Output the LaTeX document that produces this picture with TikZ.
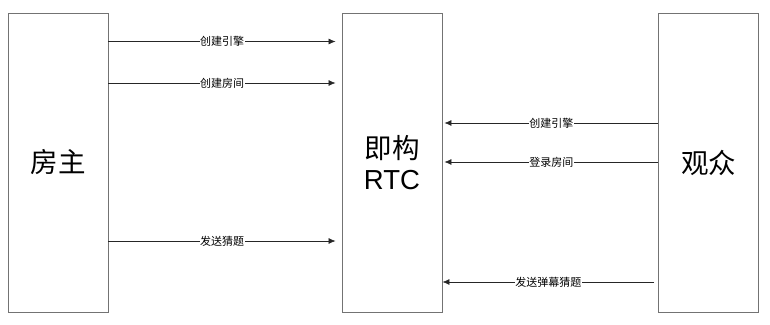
\documentclass[tikz,border=0pt]{standalone}
\usepackage{fontspec}
\setmainfont{Liberation Sans}
\newfontfamily\cjk{Noto Sans CJK SC}
\usetikzlibrary{arrows.meta}
\begin{document}
\begin{tikzpicture}[x=1pt,y=-1pt,
  party/.style={draw=black!55,line width=0.9pt,minimum width=100pt,minimum height=299pt,inner sep=0pt,align=center,font=\fontsize{27.5}{33}\selectfont},
  msg/.style={draw=black!85,line width=0.7pt,-{Latex[length=7pt,width=6pt]}},
  tag/.style={fill=white,inner sep=0.5pt,font=\cjk\fontsize{11}{12}\selectfont}]
\useasboundingbox (0,0) rectangle (770,324);
% the three parties
\node[party] (host) at (58,162.5) {\cjk 房主};
\node[party] (rtc) at (392,162.5) {\cjk 即构\\[-2pt]RTC};
\node[party] (aud) at (708.5,162.5) {\cjk 观众};
% anchor points for the messages
\coordinate (h1) at (host.east |- 0,41.5);
\coordinate (h2) at (host.east |- 0,83);
\coordinate (h3) at (host.east |- 0,241);
\coordinate (r1) at ([xshift=-6pt]rtc.west |- 0,41.5);
\coordinate (r2) at ([xshift=-6pt]rtc.west |- 0,83);
\coordinate (r3) at ([xshift=-6pt]rtc.west |- 0,241);
\coordinate (a1) at (aud.west |- 0,123);
\coordinate (a2) at (aud.west |- 0,162);
\coordinate (a3) at ([xshift=-4pt]aud.west |- 0,282);
\coordinate (q1) at ([xshift=2pt]rtc.east |- 0,123);
\coordinate (q2) at ([xshift=2pt]rtc.east |- 0,162);
\coordinate (q3) at (rtc.east |- 0,282);
% host -> RTC
\draw[msg] (h1) -- node[tag] {创建引擎} (r1);
\draw[msg] (h2) -- node[tag] {创建房间} (r2);
\draw[msg] (h3) -- node[tag] {发送猜题} (r3);
% audience -> RTC
\draw[msg] (a1) -- node[tag] {创建引擎} (q1);
\draw[msg] (a2) -- node[tag] {登录房间} (q2);
\draw[msg] (a3) -- node[tag] {发送弹幕猜题} (q3);
\end{tikzpicture}
\end{document}
